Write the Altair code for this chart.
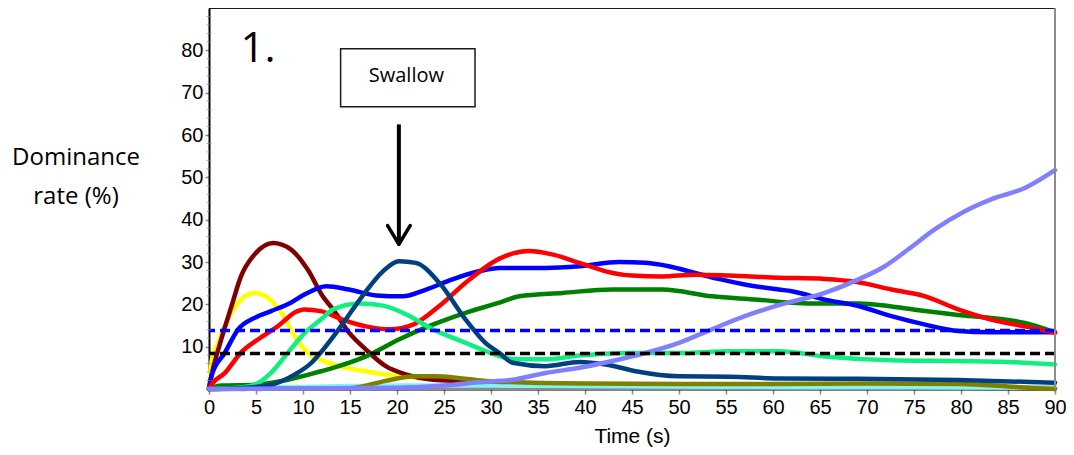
import altair as alt
import pandas as pd

# ---- data ----
maroon_t = [0, 0.25, 1.3, 2.4, 3.4, 4.85, 6.8, 8.7, 10.5, 12.1, 13.2, 14.9, 16.7, 18.8, 21, 23.8, 27, 30.9, 35, 40, 50, 60, 70, 80, 90]
maroon_v = [0, 3, 11.7, 19.6, 26.6, 31.8, 34.5, 33, 28.2, 21.9, 18.8, 13.3, 9.3, 5.4, 3.4, 2.2, 1.9, 1.6, 1.2, 0.9, 0.6, 0.5, 0.4, 0.3, 0.2]

yellow_t = [0, 0.25, 0.95, 2, 3.4, 4.85, 6.3, 7.7, 9.1, 10.5, 11.4, 13.9, 16.7, 20.2, 25.5, 30.9, 35, 40, 50, 60, 70, 80, 90]
yellow_v = [0, 6.2, 10.9, 16.4, 21.1, 22.7, 21.5, 18, 12.5, 8.6, 7.4, 5.4, 4.2, 3, 2.2, 1.8, 1.3, 1, 0.7, 0.5, 0.4, 0.3, 0.3]

blue_t = [0, 0.25, 1.7, 3.1, 4.85, 6.6, 8.7, 10.3, 12.5, 14.9, 17.8, 20.6, 23.1, 25.9, 28.7, 30.9, 32.3, 35.8, 39.4, 43.6, 46.4, 48.9, 51.7, 54.2, 57, 60.6, 62, 65.5, 69.1, 72.6, 76.2, 79.7, 83.2, 86.5, 90]
blue_v = [0, 3, 8.6, 14.1, 16.8, 18.4, 20.4, 22.5, 24.3, 23.5, 22.1, 21.9, 23.5, 25.9, 27.8, 28.6, 28.6, 28.6, 29, 30, 29.8, 29, 27.4, 26, 24.7, 23.5, 23.1, 21.1, 19.6, 17.2, 15.2, 13.7, 13.4, 13.4, 13.4]

red_t = [0, 0.25, 1.7, 3.4, 5.2, 7.3, 9.4, 10.1, 11.9, 14.2, 16.7, 19.2, 21.7, 24.5, 27.3, 30.9, 34, 36.5, 39.4, 42.2, 45, 48.2, 51.7, 55.3, 60.6, 65.5, 69.1, 72.6, 76.2, 79.7, 83.2, 86.8, 90]
red_v = [0, 1, 3.8, 8.6, 11.7, 14.8, 18.4, 18.8, 18.4, 16.4, 14.8, 14.1, 15.2, 19.6, 25.1, 30.8, 32.6, 31.8, 29.8, 27.8, 26.8, 26.6, 27, 26.8, 26.3, 26, 25.2, 23.5, 21.9, 18.8, 16.4, 14.8, 13.3]

green_t = [0, 1.3, 4.85, 8.4, 11.9, 13.2, 16.7, 20.2, 23.8, 27.3, 30.9, 33, 37.6, 42.9, 48.2, 53.5, 58.4, 62, 65.5, 69.1, 72.6, 76.2, 79.7, 83.2, 86.8, 89.6, 90]
green_v = [0, 0.8, 1, 2.2, 4.2, 5, 7.7, 11.7, 15.2, 18, 20.4, 21.9, 22.7, 23.5, 23.5, 21.9, 21.1, 20.4, 20.2, 20.2, 19.5, 18.4, 17.5, 16.8, 15.6, 13.7, 13.4]

mint_t = [0, 3, 4.85, 6.6, 8.4, 10.3, 11.9, 13.2, 16, 18.5, 21, 23.8, 27.3, 30, 32.3, 35.8, 39.4, 44.7, 50, 55.3, 60.6, 65.5, 72.6, 79.7, 85, 90]
mint_v = [0, 0.3, 1, 3.8, 8.6, 13.5, 16.4, 18.8, 20.2, 19.7, 17.6, 14.1, 10.9, 8.5, 7.1, 7, 7.9, 8.5, 8.5, 8.9, 8.9, 7.7, 6.8, 6.6, 6.4, 5.8]

navy_t = [0, 5, 6.6, 9.1, 10.9, 11.8, 13.7, 16.3, 18.5, 20.2, 22, 24.5, 27.3, 29.4, 30.9, 32.3, 35.8, 39.4, 42.2, 45.4, 50, 55.3, 60.6, 69.1, 79.7, 90]
navy_v = [0, 0.5, 1, 3.4, 6.2, 8.4, 13.8, 21.9, 27.8, 30.2, 29.8, 25.1, 16.4, 10.9, 8.5, 6.2, 5.4, 6.4, 5.8, 4.2, 3, 2.9, 2.5, 2.4, 2.1, 1.5]

purple_t = [0, 20, 25, 28.7, 32.3, 35.8, 39.4, 42.9, 46.4, 50, 53.5, 57, 60.6, 65.5, 69.1, 71.9, 74.4, 77.2, 80.4, 83.2, 86.8, 90]
purple_v = [0, 0.3, 0.8, 1.6, 2.2, 3.8, 5, 6.6, 8.5, 10.9, 14.1, 17.2, 19.8, 22.7, 25.9, 29, 33, 37.7, 42, 44.8, 47.5, 51.7]

olive_t = [0, 15, 18, 20, 22, 24, 27, 30, 40, 50, 60, 70, 80, 85, 88, 90]
olive_v = [0, 0.2, 1.5, 2.5, 3, 3, 2.5, 1.8, 1.3, 1.2, 1.2, 1.3, 1.2, 0.6, 0.2, 0]

cyan_t = [0, 10, 20, 30, 40, 50, 60, 70, 80, 90]
cyan_v = [0.3, 0.5, 0.8, 0.8, 0.7, 0.6, 0.5, 0.5, 0.4, 0.3]

gray_t = [0, 30, 60, 90]
gray_v = [0.3, 0.3, 0.3, 0.3]

pink_t = [3.5, 4.5, 5.5]
pink_v = [0, 0.1, 0]

ref_levels = [13.8, 8.4]
ref_colors = ["#0000ff", "#000000"]

x_ticks = list(range(0, 91, 5))
y_ticks = [10, 20, 30, 40, 50, 60, 70, 80]
y_minor = [v for v in range(2, 90, 2) if v % 10 != 0]

# drawing order (back to front)
series = [
    ("pink", pink_t, pink_v, "#e060e0"),
    ("yellow", yellow_t, yellow_v, "#ffff00"),
    ("maroon", maroon_t, maroon_v, "#800000"),
    ("gray", gray_t, gray_v, "#8c8c8c"),
    ("cyan", cyan_t, cyan_v, "#7ff5f5"),
    ("olive", olive_t, olive_v, "#808000"),
    ("green", green_t, green_v, "#008000"),
    ("blue", blue_t, blue_v, "#0000ff"),
    ("red", red_t, red_v, "#ff0000"),
    ("mint", mint_t, mint_v, "#10f080"),
    ("navy", navy_t, navy_v, "#004080"),
    ("purple", purple_t, purple_v, "#8080ff"),
]

W, H = 846, 381

x_enc = alt.X("t:Q", scale=alt.Scale(domain=[0, 90], nice=False, zero=False),
              axis=alt.Axis(values=x_ticks, title="Time (s)", format="d", labelFlush=False))
y_enc = alt.Y("v:Q", scale=alt.Scale(domain=[0, 90], nice=False),
              axis=alt.Axis(values=y_ticks, title=None, format="d"))

layers = []
for name, ts, vs, col in series:
    df = pd.DataFrame({"t": ts, "v": vs})
    layers.append(
        alt.Chart(df).mark_line(color=col, strokeWidth=4.5, interpolate="monotone",
                                strokeJoin="round", strokeCap="round")
        .encode(x=x_enc, y=y_enc)
    )

for lvl, col in zip(ref_levels, ref_colors):
    layers.append(
        alt.Chart(pd.DataFrame({"v": [lvl]})).mark_rule(color=col, strokeWidth=3.5, strokeDash=[10, 5])
        .encode(y=y_enc)
    )

# minor ticks on the y axis
layers.append(alt.Chart(pd.DataFrame({"v": y_minor})).mark_tick(color="#888888", size=5, thickness=1)
              .encode(y=y_enc, x=alt.value(0)))

# frame: top black, right gray
layers.append(alt.Chart(pd.DataFrame({"a": [0]})).mark_rule(color="#1a1a1a", strokeWidth=2)
              .encode(x=alt.value(0), x2=alt.value(W), y=alt.value(0)))
layers.append(alt.Chart(pd.DataFrame({"a": [0]})).mark_rule(color="#8c8c8c", strokeWidth=2)
              .encode(x=alt.value(W), y=alt.value(0), y2=alt.value(H)))

ann = pd.DataFrame({"a": [0]})
# Swallow box
layers.append(alt.Chart(ann).mark_rect(fill="white", stroke="#1a1a1a", strokeWidth=1.5)
              .encode(x=alt.datum(14.0), x2=alt.datum(28.3), y=alt.datum(80.4), y2=alt.datum(66.7)))
layers.append(alt.Chart(ann).mark_text(text="Swallow", font="Open Sans", fontSize=20, color="black",
                                       align="center", baseline="middle")
              .encode(x=alt.datum(21.0), y=alt.datum(74.0)))
# arrow
layers.append(alt.Chart(ann).mark_rule(color="black", strokeWidth=4)
              .encode(x=alt.datum(20.2), y=alt.datum(62.5), y2=alt.datum(34.6)))
layers.append(alt.Chart(ann).mark_rule(color="black", strokeWidth=3.5, strokeCap="round")
              .encode(x=alt.datum(19.0), x2=alt.datum(20.2), y=alt.datum(38.6), y2=alt.datum(34.2)))
layers.append(alt.Chart(ann).mark_rule(color="black", strokeWidth=3.5, strokeCap="round")
              .encode(x=alt.datum(21.4), x2=alt.datum(20.2), y=alt.datum(38.6), y2=alt.datum(34.2)))
# "1." label
layers.append(alt.Chart(ann).mark_text(text="1.", font="Open Sans", fontSize=42, color="black",
                                       align="center", baseline="middle")
              .encode(x=alt.value(49), y=alt.value(41)))
# y title (two lines, horizontal)
layers.append(alt.Chart(ann).mark_text(text="Dominance", font="Open Sans", fontSize=24, color="black",
                                       align="center", baseline="middle")
              .encode(x=alt.value(-133), y=alt.value(150)))
layers.append(alt.Chart(ann).mark_text(text="rate (%)", font="Open Sans", fontSize=24, color="black",
                                       align="center", baseline="middle")
              .encode(x=alt.value(-133), y=alt.value(189)))

chart = alt.layer(*layers).properties(
    width=W, height=H,
    autosize=alt.AutoSizeParams(type="none"),
    padding={"left": 201, "top": 0, "right": 11, "bottom": 60},
).configure_view(stroke=None).configure_axis(
    domainColor="#000000", domainWidth=2, tickColor="#888888", tickWidth=1.5, tickSize=5,
    labelFont="Liberation Sans", labelFontSize=20, labelColor="black", grid=False,
    titleFont="Liberation Sans", titleFontSize=21, titleFontWeight="normal", titleColor="black",
).configure_axisY(labelPadding=2, tickSize=4).configure_axisX(labelPadding=3, titlePadding=8)

chart.save("out.html", embed_options={"renderer": "svg", "actions": False})
